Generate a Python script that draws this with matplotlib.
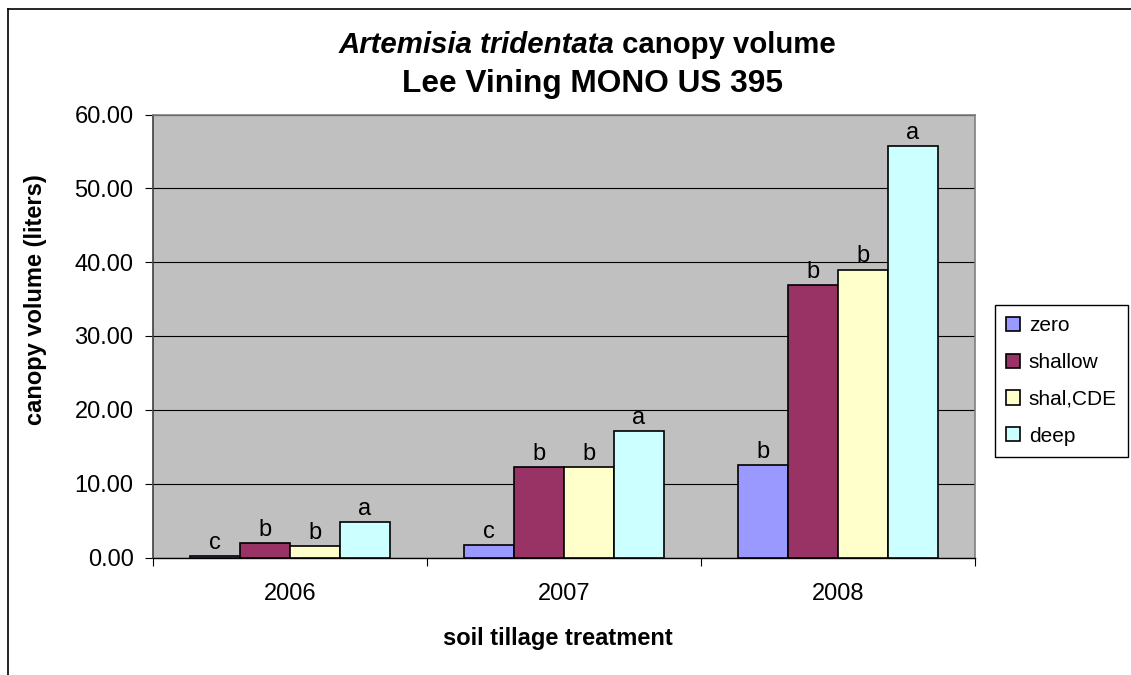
"""Artemisia tridentata canopy volume, Lee Vining MONO US 395 (grouped bars)."""

import matplotlib

matplotlib.use("Agg")
import matplotlib.pyplot as plt  # noqa: E402
import numpy as np  # noqa: E402
from matplotlib.lines import Line2D  # noqa: E402

years = ["2006", "2007", "2008"]
treatments = ["zero", "shallow", "shal,CDE", "deep"]
zero = [0.25, 1.7, 12.5]
shallow = [2.0, 12.2, 36.9]
shal_cde = [1.6, 12.2, 39.0]
deep = [4.8, 17.1, 55.7]
letters_zero = ["c", "c", "b"]
letters_shallow = ["b", "b", "b"]
letters_shal_cde = ["b", "b", "b"]
letters_deep = ["a", "a", "a"]
yticks = [0, 10, 20, 30, 40, 50, 60]

colors = ["#9999FF", "#993366", "#FFFFCC", "#CCFFFF"]
FONT = "Liberation Sans"
W, H = 1131, 675


def main() -> None:
    plt.rcParams["font.family"] = [FONT, "DejaVu Sans"]
    fig = plt.figure(figsize=(W / 100, H / 100), dpi=100)
    ax = fig.add_axes([153 / W, 1 - 557.5 / H, 822 / W, (557.5 - 114.5) / H])
    ax.set_facecolor("#C0C0C0")

    series = [zero, shallow, shal_cde, deep]
    letters = [letters_zero, letters_shallow, letters_shal_cde, letters_deep]
    x = np.arange(len(years))
    bw = 0.1816
    for i, (vals, labs) in enumerate(zip(series, letters)):
        pos = x + (i - 1.5) * bw
        bars = ax.bar(pos, vals, width=bw, color=colors[i], edgecolor="black",
                      linewidth=1.2, label=treatments[i], zorder=3)
        for rect, lab in zip(bars, labs):
            ax.annotate(lab, (rect.get_x() + rect.get_width() / 2, rect.get_height()),
                        xytext=(0, 1.5), textcoords="offset points",
                        ha="center", va="bottom", fontsize=17)

    ax.set_xlim(-0.5, len(years) - 0.5)
    ax.set_ylim(0, 60)
    ax.set_yticks(yticks)
    ax.set_yticklabels([f"{v:.2f}" for v in yticks])
    ax.yaxis.grid(True, color="black", linewidth=0.8)
    ax.set_axisbelow(True)

    # category boundaries carry the ticks, labels sit on minor ticks
    ax.set_xticks(np.arange(len(years) + 1) - 0.5)
    ax.set_xticklabels([])
    ax.set_xticks(x, minor=True)
    ax.set_xticklabels(years, minor=True)
    ax.tick_params(axis="x", which="major", length=6, width=0.8, direction="out")
    ax.tick_params(axis="x", which="minor", length=0, pad=18, labelsize=17)
    ax.tick_params(axis="y", length=6, width=0.8, direction="out", pad=8, labelsize=17)

    for side in ("top", "right"):
        ax.spines[side].set_color("#808080")
        ax.spines[side].set_linewidth(1.2)
    ax.spines["left"].set_color("#404040")
    ax.spines["left"].set_linewidth(1.2)
    ax.spines["bottom"].set_color("black")
    ax.spines["bottom"].set_linewidth(1.0)

    ax.set_ylabel("canopy volume (liters)", fontsize=17, fontweight="bold")
    ax.yaxis.set_label_coords((47 - 153) / 822, (557.5 - 300) / 443)
    ax.set_xlabel("soil tillage treatment", fontsize=17, fontweight="bold", va="center")
    ax.xaxis.set_label_coords((558 - 153) / 822, (557.5 - 638) / 443)

    # two-style title line, then the site line
    split = 614
    fig.text(split / W, 1 - 53 / H, "Artemisia tridentata", ha="right", va="baseline",
             fontsize=21.2, fontweight="bold", fontstyle="italic")
    fig.text(split / W, 1 - 53 / H, " canopy volume", ha="left", va="baseline",
             fontsize=21.2, fontweight="bold")
    fig.text(592 / W, 1 - 92 / H, "Lee Vining MONO US 395", ha="center", va="baseline",
             fontsize=22.8, fontweight="bold")

    fig.legend(loc="upper left", bbox_to_anchor=(995 / W, 1 - 305 / H),
               borderaxespad=0, fontsize=15, frameon=True, fancybox=False,
               edgecolor="black", framealpha=1, handlelength=0.67, handleheight=0.67,
               handletextpad=0.4, labelspacing=0.85, borderpad=0.55)

    # outer chart border (cropped on the right and bottom)
    fig.add_artist(Line2D([8 / W, 8 / W], [0, 1 - 9 / H], color="black",
                          linewidth=1.2, transform=fig.transFigure))
    fig.add_artist(Line2D([8 / W, 1], [1 - 9 / H, 1 - 9 / H], color="black",
                          linewidth=1.2, transform=fig.transFigure))

    fig.savefig("out.png", dpi=100)
    plt.close(fig)


if __name__ == "__main__":
    main()
